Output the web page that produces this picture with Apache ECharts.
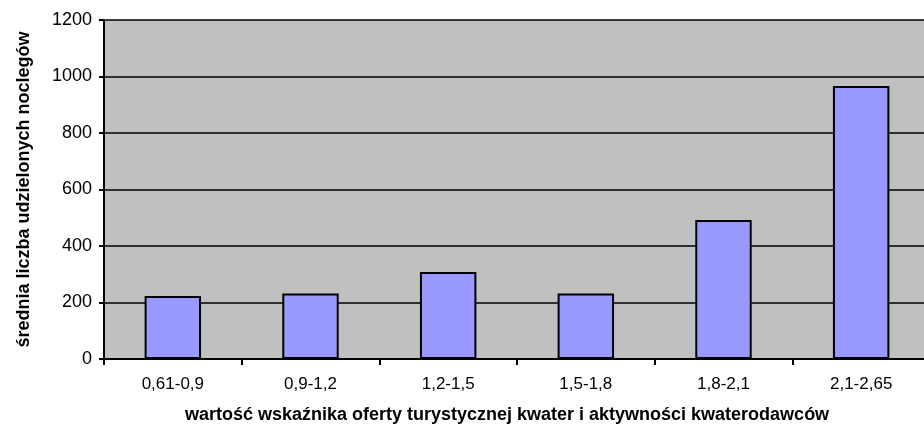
<!DOCTYPE html>
<html>
<head>
<meta charset="utf-8">
<script src="https://cdn.jsdelivr.net/npm/echarts@6/dist/echarts.min.js"></script>
<style>
  html, body { margin: 0; padding: 0; background: #fff; overflow: hidden; }
  #chart { width: 924px; height: 440px; }
</style>
</head>
<body>
<div id="chart"></div>
<script>
// dane wykresu
var categories = ['0,61-0,9', '0,9-1,2', '1,2-1,5', '1,5-1,8', '1,8-2,1', '2,1-2,65'];
var values = [223, 232, 308, 232, 492, 966];
var yTicks = [0, 200, 400, 600, 800, 1000, 1200];

var chart = echarts.init(document.getElementById('chart'));
var font = '"Liberation Sans", Arial, sans-serif';

chart.setOption({
    animation: false,
    grid: {
        left: 104,
        width: 826, // obszar wykresu wychodzi poza prawą krawędź
        top: 20,
        bottom: 81,
        outerBoundsMode: 'none',
        containLabel: false,
        show: true,
        backgroundColor: '#C0C0C0',
        borderWidth: 0
    },
    xAxis: {
        type: 'category',
        data: categories,
        name: 'wartość wskaźnika oferty turystycznej kwater i aktywności kwaterodawców',
        nameLocation: 'middle',
        nameGap: 47,
        nameTextStyle: {
            fontFamily: font, fontSize: 18, fontWeight: 'bold', color: '#000',
            padding: [0, 20, 0, 0]
        },
        axisLine: { lineStyle: { color: '#000', width: 2 } },
        axisTick: { show: true, length: 6, lineStyle: { color: '#000', width: 2 } },
        axisLabel: { fontFamily: font, fontSize: 17, color: '#000', margin: 17 }
    },
    yAxis: {
        type: 'value',
        min: yTicks[0],
        max: yTicks[yTicks.length - 1],
        interval: 200,
        name: 'średnia liczba udzielonych noclegów',
        nameLocation: 'middle',
        nameGap: 71,
        nameTextStyle: { fontFamily: font, fontSize: 18, fontWeight: 'bold', color: '#000' },
        axisLine: { show: true, lineStyle: { color: '#000', width: 2 } },
        axisTick: { show: true, length: 5, lineStyle: { color: '#000', width: 2 } },
        axisLabel: {
            fontFamily: font, fontSize: 18, color: '#000', margin: 12,
            formatter: function(v) { return String(v); }
        },
        splitLine: { show: true, lineStyle: { color: '#000', width: 1.5 } }
    },
    series: [{
        type: 'bar',
        data: values,
        barWidth: '41%',
        itemStyle: { color: '#9999FF', borderColor: '#000', borderWidth: 2 }
    }]
});
</script>
</body>
</html>
